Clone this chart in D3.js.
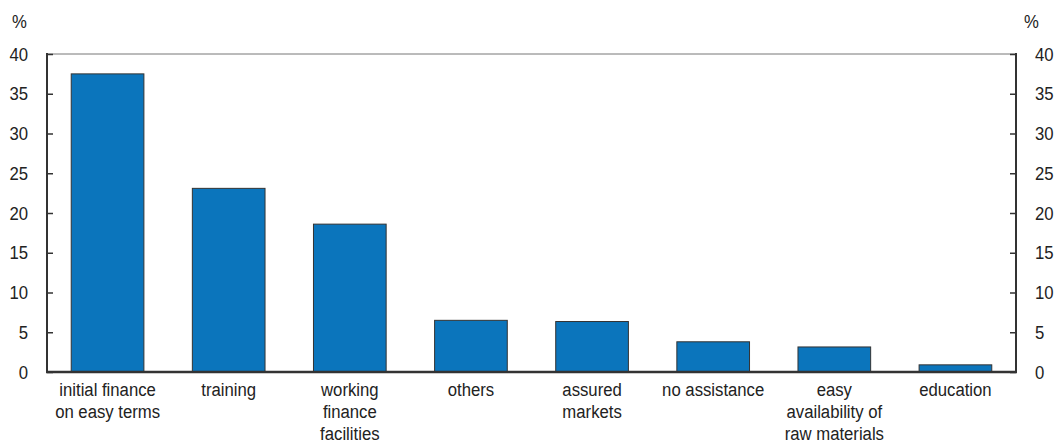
<!DOCTYPE html>
<html>
<head>
<meta charset="utf-8">
<script src="https://cdn.jsdelivr.net/npm/d3@7"></script>
<style>
  body { margin: 0; background: #fff; }
  svg text { font-family: "Liberation Sans", Arial, sans-serif; fill: #222; }
</style>
</head>
<body>
<svg width="1054" height="445"></svg>
<script>
var svg = d3.select('svg');

// Data
var categories = [
    ['initial finance', 'on easy terms'],
    ['training'],
    ['working', 'finance', 'facilities'],
    ['others'],
    ['assured', 'markets'],
    ['no assistance'],
    ['easy', 'availability of', 'raw materials'],
    ['education']
];
var values = [37.5, 23.1, 18.6, 6.5, 6.35, 3.8, 3.15, 0.9];
var yTicks = [0, 5, 10, 15, 20, 25, 30, 35, 40];

// Layout
var plotLeft = 47, plotRight = 1016, plotTop = 54, plotBottom = 372;
var fontSize = 19;
var squeeze = 0.88; // condensed look

var x = d3.scaleBand()
    .domain(d3.range(categories.length))
    .range([plotLeft, plotRight])
    .paddingInner(0.4)
    .paddingOuter(0.2);

var y = d3.scaleLinear()
    .domain([0, 40])
    .range([plotBottom, plotTop]);

function place(tx, ty) {
    return 'translate(' + [tx, ty] + ') scale(' + squeeze + ',1)';
}

// top border
svg.append('line')
    .attr('x1', plotLeft).attr('x2', plotRight)
    .attr('y1', plotTop).attr('y2', plotTop)
    .attr('stroke', '#777').attr('stroke-width', 1);

// bars
svg.selectAll('.bar')
    .data(values)
    .enter()
    .append('rect')
    .attr('class', 'bar')
    .attr('x', function(d, i) { return x(i); })
    .attr('y', function(d) { return y(d); })
    .attr('width', x.bandwidth())
    .attr('height', function(d) { return y(0) - y(d); })
    .attr('fill', '#0b75bc')
    .attr('stroke', '#333')
    .attr('stroke-width', 1);

// left and right axes (ticks pointing inward)
var leftAxis = d3.axisRight(y).tickValues(yTicks).tickSize(6).tickFormat('');
var rightAxis = d3.axisLeft(y).tickValues(yTicks).tickSize(6).tickFormat('');

svg.append('g')
    .attr('transform', 'translate(' + plotLeft + ',0)')
    .call(leftAxis)
    .call(function(g) {
        g.select('.domain').remove();
        g.selectAll('line').attr('stroke', '#333').attr('stroke-width', 1.5);
    });
svg.append('g')
    .attr('transform', 'translate(' + plotRight + ',0)')
    .call(rightAxis)
    .call(function(g) {
        g.select('.domain').remove();
        g.selectAll('line').attr('stroke', '#333').attr('stroke-width', 1.5);
    });

// axis lines
svg.append('line')
    .attr('x1', plotLeft).attr('x2', plotLeft)
    .attr('y1', plotTop - 1).attr('y2', plotBottom)
    .attr('stroke', '#333').attr('stroke-width', 2);
svg.append('line')
    .attr('x1', plotRight).attr('x2', plotRight)
    .attr('y1', plotTop - 1).attr('y2', plotBottom)
    .attr('stroke', '#333').attr('stroke-width', 2);
svg.append('line')
    .attr('x1', plotLeft - 1).attr('x2', plotRight + 1)
    .attr('y1', plotBottom).attr('y2', plotBottom)
    .attr('stroke', '#333').attr('stroke-width', 2.5);

// tick labels
svg.selectAll('.ylab-left')
    .data(yTicks)
    .enter()
    .append('text')
    .attr('class', 'ylab-left')
    .attr('transform', function(d) { return place(28, y(d)); })
    .attr('dy', '0.35em')
    .attr('text-anchor', 'end')
    .style('font-size', fontSize)
    .text(function(d) { return d; });

svg.selectAll('.ylab-right')
    .data(yTicks)
    .enter()
    .append('text')
    .attr('class', 'ylab-right')
    .attr('transform', function(d) { return place(1035, y(d)); })
    .attr('dy', '0.35em')
    .attr('text-anchor', 'start')
    .style('font-size', fontSize)
    .text(function(d) { return d; });

// unit labels
svg.append('text')
    .attr('transform', place(12, 28))
    .style('font-size', fontSize)
    .text('%');
svg.append('text')
    .attr('transform', place(1024, 28))
    .style('font-size', fontSize)
    .text('%');

// category labels
var catG = svg.selectAll('.cat')
    .data(categories)
    .enter()
    .append('text')
    .attr('class', 'cat')
    .attr('transform', function(d, i) { return place(x(i) + x.bandwidth() / 2, 396); })
    .attr('text-anchor', 'middle')
    .style('font-size', fontSize);
catG.selectAll('tspan')
    .data(function(d) { return d; })
    .enter()
    .append('tspan')
    .attr('x', 0)
    .attr('y', function(d, j) { return j * 22; })
    .text(function(d) { return d; });
</script>
</body>
</html>
